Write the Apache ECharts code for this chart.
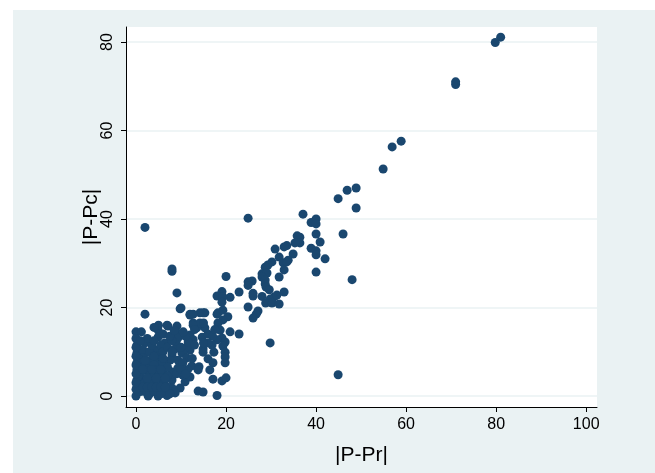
<!DOCTYPE html>
<html>
<head>
<meta charset="utf-8">
<script src="https://cdn.jsdelivr.net/npm/echarts@6/dist/echarts.min.js"></script>
<style>
html,body{margin:0;padding:0;background:#fff;}
#bg{position:absolute;left:13px;top:10px;width:642px;height:463px;background:#EAF2F3;}
#chart{position:absolute;left:0;top:0;width:655px;height:473px;}
</style>
</head>
<body>
<div id="bg"></div>
<div id="chart"></div>
<script>
const xTicks = [0, 20, 40, 60, 80, 100];
const yTicks = [0, 20, 40, 60, 80];
const xTitle = '|P-Pr|';
const yTitle = '|P-Pc|';

// |P-Pr| values
const xs = [
81,79.8,71,71,58.9,56.9,54.9,48.9,46.9,44.9,48.9,37.1,40,38.9,40,40,46,40.9,36.4,35.8,36.4,35.3,33.5,32.9,30.9,38.9,40,40,34.9,31.8,33.8,42,30.2,29.3,28.7,32.7,33.5,32.9,28,29.1,40,31.8,28,20,28.7,25.8,24.9,28.7,48,28.9,29.6,22.9,32.9,26,26,19.1,18,20.9,19.3,28,30.7,29.8,31.3,28.8,30.2,31.8,24.9,27.1,26.7,26,24.9,44.9,24.9,29.8,2,8,8,9.1,
12,14.2,15.3,18,20.4,9.8,12.7,14.9,18.2,19.3,19.1,19.3,12.7,15.3,13.5,18.2,18.7,20.9,22.9,12,12.7,14.7,19.1,18,19.8,19.3,14.9,12,17.3,19.8,19.8,16,17.1,19.8,12.4,14,17.1,19.1,20,13.8,14.9,18,16.4,13.8,16.9,14.9,11.3,10.2,14.2,
10,2,12,0,7.1,9.1,4.9,4.9,9.1,12.7,2,0.2,9.3,6.4,11.6,9.1,0.2,2,4.7,8,10.4,3.8,4.9,7.6,11.3,9.3,0.2,0.2,0.2,0.2,0,2.7,4.9,6.9,9.8,10.9,12,9.3,10.4,8,2,3.6,6.4,5.3,3.8,1.6,1.3,4.2,6.4,8,8,8.7,10.4,6.9,
1,1,1,1,1,2,2,2,3,3,3,3,3,3,4,4,4,4,5,5,5,5,6,6,6,6,7,7,7,0.5,0.5,0.5,0.5,1.5,3,3.5,2.5,4,5.5,6,7,8,8.5,10,11,10.5,13,15,16,17,16,15,13,12.5,11.5,5.5,7.5,0,0,0,0,0,0,0,1,1.2,5,4,6,7.5,8.5,17.5,
1.5,2.5,3.5,4.5,5.5,6.5,2.5,4.5,6.5,1.5,3.5,5.5,9,10,11,2,4,6,8
];
// |P-Pc| values
const ys = [
81.1,79.9,70.4,71,57.6,56.3,51.3,47,46.5,44.6,42.5,41.1,40,39.2,38.9,36.6,36.6,34.8,35.9,36.2,34.6,34.6,34,33.7,33.2,33.4,32.8,31.9,32.1,31.4,30.7,31,30.3,29.6,29.1,30.1,30.3,28.5,27.6,27.8,28,26.9,26.9,27,26.2,26,25.8,25.3,26.3,24.6,24,23.5,23.5,23.2,22.6,23.6,22.6,22.3,22.4,22.5,22.4,21.9,22.8,21,21,20.8,20.1,19.2,18.5,17.6,25,4.8,40.2,12,38.1,28.7,28.2,23.3,
18.5,18.8,18.8,18.5,17.9,19.7,18.5,18.8,18.8,19.4,21.2,17.2,16.5,15.4,15.4,16.5,14.9,14.5,14,13.8,12.7,13.3,13.1,12.7,12.2,11.3,10.6,10.4,9.9,9.9,8.8,8.4,7.5,7.5,6.8,6.6,3.8,3.4,4.1,1.1,0.9,0.1,5.9,5.9,11.5,9.9,11.1,9.7,16.5,
19.9,18.5,18.3,14.5,15.8,15.8,14.9,13.3,14.2,16,12,11.5,13.1,12,12.2,11.5,9.7,9.7,10.4,9.3,9.7,8.6,7.7,8.1,8.6,8.1,7.5,5.9,3.6,2,0,0,0,0.1,1.8,3.2,4.3,6.3,4.7,5.4,5.9,4.3,3.6,1.8,1.4,2,4.1,6.3,6.3,3.6,1.8,0.7,7.5,16,
1,3,5,7,9,1,3,7,0.5,2.5,3.5,5,6.5,8,1,3,5,7,3,4.5,6,9,1,2.5,5,7.5,2,4.5,6.5,1,4.5,6.5,8.5,10.5,10,11.5,13,12.5,11.5,10,11,12.5,10.5,11,13.5,14.5,15,16.5,14,13.5,12,12,11.5,8.5,6,0.5,0.5,1.5,3,5,7,9,11,13,12.5,14.5,16,15.5,14,13.5,14.8,15,
2,2,2,2,2,2,4,4,4,6,6,6,5,6,5,8,9,8.5,10
];

const pts = xs.map((x, i) => [x, ys[i]]);

const chart = echarts.init(document.getElementById('chart'), null, {renderer: 'canvas'});
const font = "'Liberation Sans', Arial, sans-serif";
chart.setOption({
  backgroundColor: 'transparent',
  animation: false,
  grid: {left: 126, right: 58, top: 27, bottom: 66, show: true, backgroundColor: '#fff', borderWidth: 0},
  xAxis: {
    type: 'value', min: -2.22, max: 102.4,
    axisLine: {show: true, onZero: false, lineStyle: {color: '#000', width: 1}},
    axisTick: {show: true, length: 5, customValues: xTicks, lineStyle: {color: '#000'}},
    axisLabel: {customValues: xTicks, fontSize: 16, color: '#000', fontFamily: font, margin: 10},
    splitLine: {show: false},
    name: xTitle, nameLocation: 'middle', nameGap: 38, nameMoveOverlap: false,
    nameTextStyle: {fontSize: 21, color: '#000', fontFamily: font}
  },
  yAxis: {
    type: 'value', min: -2.49, max: 83.4,
    axisLine: {show: true, onZero: false, lineStyle: {color: '#000', width: 1}},
    axisTick: {show: true, length: 5, customValues: yTicks, lineStyle: {color: '#000'}},
    axisLabel: {customValues: yTicks, rotate: 90, fontSize: 16, color: '#000', fontFamily: font, margin: 10},
    splitLine: {show: true, lineStyle: {color: '#EAF2F3', width: 1.5}},
    name: yTitle, nameLocation: 'middle', nameGap: 24, nameMoveOverlap: false,
    nameTextStyle: {fontSize: 21, color: '#000', fontFamily: font}
  },
  series: [{
    type: 'scatter',
    data: pts,
    symbol: 'circle',
    symbolSize: 9,
    itemStyle: {color: '#1a476f', opacity: 1}
  }]
});
</script>
</body>
</html>
